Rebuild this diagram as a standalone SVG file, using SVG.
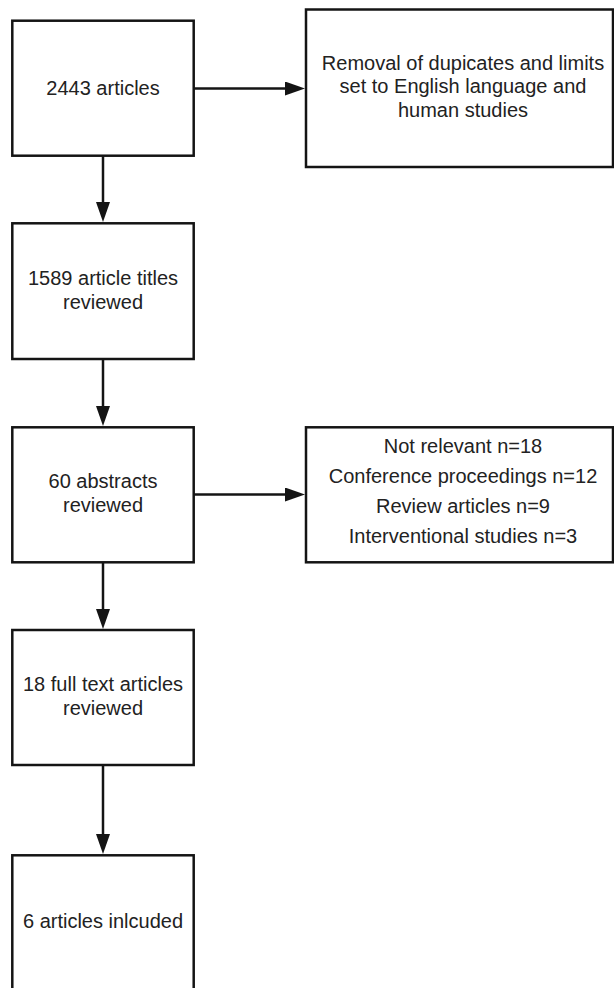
<svg xmlns="http://www.w3.org/2000/svg" width="614" height="988" viewBox="0 0 614 988">
<defs>
<style>
.box{fill:#fff;stroke:#141414;stroke-width:2.5}
.t{font-family:"Liberation Sans",Arial,sans-serif;font-size:20px;fill:#222;text-anchor:middle}
.c{fill:none;stroke:#141414;stroke-width:2.5}
</style>
<marker id="ah" markerUnits="userSpaceOnUse" markerWidth="20" markerHeight="14" refX="12" refY="7" orient="auto" viewBox="0 0 20 14">
<path d="M0,0 L20,7 L0,14 z" fill="#141414"/>
</marker>
</defs>
<rect width="614" height="988" fill="#fff"/>
<g id="connectors">
<line class="c" x1="194" y1="88.5" x2="297" y2="88.5" marker-end="url(#ah)"/>
<line class="c" x1="103" y1="156" x2="103" y2="214" marker-end="url(#ah)"/>
<line class="c" x1="103" y1="359" x2="103" y2="418" marker-end="url(#ah)"/>
<line class="c" x1="194" y1="494.5" x2="297" y2="494.5" marker-end="url(#ah)"/>
<line class="c" x1="103" y1="562" x2="103" y2="621" marker-end="url(#ah)"/>
<line class="c" x1="103" y1="765" x2="103" y2="846" marker-end="url(#ah)"/>
</g>
<g id="n1">
<rect class="box" x="12.3" y="20.7" width="181.4" height="135"/>
<text class="t" x="103" y="95">2443 articles</text>
</g>
<g id="n2">
<rect class="box" x="306" y="9.5" width="307" height="157.5"/>
<text class="t" x="463" y="69.5">Removal of dupicates and limits</text>
<text class="t" x="463" y="93">set to English language and</text>
<text class="t" x="463" y="116.5">human studies</text>
</g>
<g id="n3">
<rect class="box" x="12.3" y="223.3" width="181.4" height="135.7"/>
<text class="t" x="103" y="285">1589 article titles</text>
<text class="t" x="103" y="309">reviewed</text>
</g>
<g id="n4">
<rect class="box" x="12.3" y="427.3" width="181.4" height="135"/>
<text class="t" x="103" y="487.5">60 abstracts</text>
<text class="t" x="103" y="511.5">reviewed</text>
</g>
<g id="n5">
<rect class="box" x="306" y="427.3" width="307" height="135"/>
<text class="t" x="463" y="452.7">Not relevant n=18</text>
<text class="t" x="463" y="482.7">Conference proceedings n=12</text>
<text class="t" x="463" y="512.7">Review articles n=9</text>
<text class="t" x="463" y="542.7">Interventional studies n=3</text>
</g>
<g id="n6">
<rect class="box" x="12.3" y="630" width="181.4" height="135"/>
<text class="t" x="103" y="691">18 full text articles</text>
<text class="t" x="103" y="715">reviewed</text>
</g>
<g id="n7">
<rect class="box" x="12.3" y="855.3" width="181.4" height="140"/>
<text class="t" x="103" y="928">6 articles inlcuded</text>
</g>
</svg>
